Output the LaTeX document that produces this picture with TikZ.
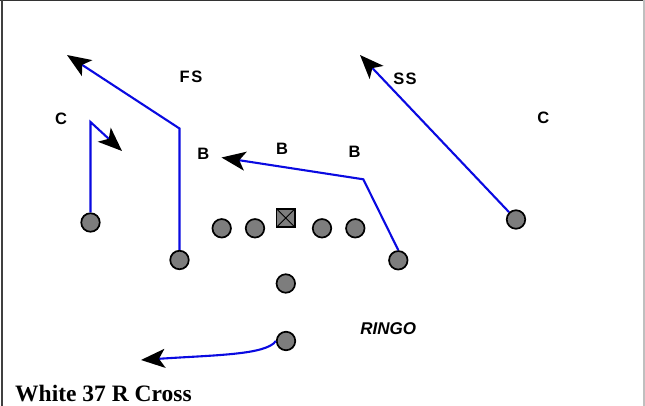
\documentclass[tikz,border=0pt]{standalone}
\usepackage{fontspec}
\setmainfont{Liberation Serif}
\setsansfont{Liberation Sans}
\usetikzlibrary{arrows.meta}
\definecolor{routeblue}{RGB}{10,10,225}
\definecolor{playergray}{RGB}{125,125,125}
\tikzset{
  player/.style={circle, draw=black, line width=1.7pt, fill=playergray,
    minimum width=17.5pt, minimum height=18.5pt, inner sep=0pt},
  centerbox/.style={rectangle, draw=black, line width=1.7pt, fill=playergray,
    minimum size=18.5pt, inner sep=0pt,
    path picture={\draw[line width=0.8pt]
      (path picture bounding box.north west) -- (path picture bounding box.south east)
      (path picture bounding box.north east) -- (path picture bounding box.south west);}},
  route/.style={draw=routeblue, line width=2.1pt, line join=miter},
  routetip/.style={-{Stealth[black, length=24pt, width=19pt, inset=6pt]}},
  deflabel/.style={font=\sffamily\bfseries\fontsize{16.5}{16.5}\selectfont, inner sep=0pt},
}
\begin{document}
\begin{tikzpicture}[x=1pt, y=-1pt]
  % canvas and frame
  \useasboundingbox (0,0) rectangle (645,406);
  \fill[white] (0,0) rectangle (645,406);
  \draw[black!80, line width=1.5pt] (0,0.75) -- (645,0.75);
  \draw[black!75, line width=1.6pt] (1.8,0) -- (1.8,406);
  \draw[black!25, line width=1.6pt] (644,0) -- (644,406);

  % offense
  \node[player] (lwr)   at (90.5,222.5) {};
  \node[player] (lslot) at (179.5,260) {};
  \node[player] (lg2)   at (221.7,228.3) {};
  \node[player] (lg1)   at (255,228.3) {};
  \node[centerbox] (ctr) at (285.8,218) {};
  \node[player] (rg1)   at (322,228.3) {};
  \node[player] (rg2)   at (355.3,228.3) {};
  \node[player] (rslot) at (398.3,260.3) {};
  \node[player] (qb)    at (285.8,283.5) {};
  \node[player] (rb)    at (286,341) {};
  \node[player] (rwr)   at (516,219.5) {};

  % route turn points and ends
  \coordinate (lwrturn) at (90.5,122);
  \coordinate (lwrend)  at (122,151);
  \coordinate (slotturn) at (179.5,128.5);
  \coordinate (slotend)  at (67,55);
  \coordinate (crossturn) at (363.3,179.3);
  \coordinate (crossend)  at (221.5,157.5);
  \coordinate (rwrend)    at (360,55);
  \coordinate (rbend)     at (141,360);

  % routes
  \draw[route, routetip] (lwr.north) -- (lwrturn) -- (lwrend);
  \draw[route, routetip] (lslot.north) -- (slotturn) -- (slotend);
  \draw[route, routetip] (rslot.north) -- (crossturn) -- (crossend);
  \draw[route, routetip] (rwr) -- (rwrend);
  \draw[route, routetip] (rb.west) .. controls (266,355) and (215,355) .. (rbend);

  % defense
  \node[deflabel] (fs)  at (191,77) {F\kern1.5pt S};
  \node[deflabel] (ss)  at (405,79) {S\kern1.5pt S};
  \node[deflabel] (lc)  at (61,119) {C};
  \node[deflabel] (rc)  at (543.3,118) {C};
  \node[deflabel] (lb1) at (203.3,153.5) {B};
  \node[deflabel] (lb2) at (282,149) {B};
  \node[deflabel] (lb3) at (354.5,151.5) {B};

  % play labels
  \node[font=\sffamily\bfseries\itshape\fontsize{17}{17}\selectfont, inner sep=0pt]
    (ringo) at (388.3,328.3) {RINGO};
  \node[font=\bfseries\fontsize{23.5}{23.5}\selectfont, inner sep=0pt, anchor=base west]
    (title) at (15,401.5) {White 37 R Cross};
\end{tikzpicture}
\end{document}
